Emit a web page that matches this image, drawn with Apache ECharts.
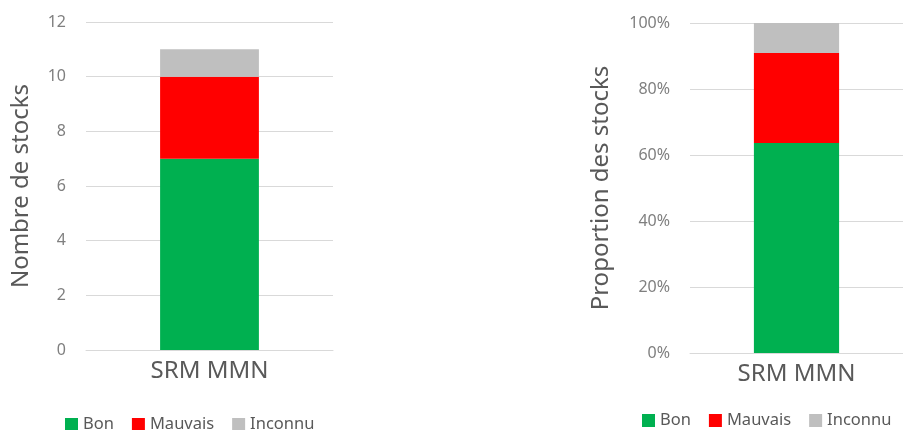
<!DOCTYPE html>
<html>
<head>
<meta charset="utf-8">
<script src="https://cdn.jsdelivr.net/npm/echarts@6/dist/echarts.min.js"></script>
<style>
  html, body { margin: 0; padding: 0; background: #fff; }
  #stocks { width: 903px; height: 430px; }
</style>
</head>
<body>
<div id="stocks"></div>
<script>
// données
var categories = ['SRM MMN'];
var seriesNames = ['Bon', 'Mauvais', 'Inconnu'];
var colors = ['#00B050', '#FF0000', '#BFBFBF'];

// nombre de stocks
var countBon = [7];
var countMauvais = [3];
var countInconnu = [1];

// proportion des stocks (%)
var pctBon = [63.6];
var pctMauvais = [27.3];
var pctInconnu = [9.1];

var countTicks = [0, 2, 4, 6, 8, 10, 12];
var pctTicks = [0, 20, 40, 60, 80, 100];

var chart = echarts.init(document.getElementById('stocks'));

var font = 'Noto Sans';
var gridColor = '#D9D9D9';

var makeSeries = function(gridIdx, datas) {
    var list = [];
    for (var i = 0; i < seriesNames.length; i++) {
        list.push({
            name: seriesNames[i],
            type: 'bar',
            stack: 'total' + gridIdx,
            xAxisIndex: gridIdx,
            yAxisIndex: gridIdx,
            barWidth: '40%',
            data: datas[i],
            itemStyle: { color: colors[i] },
            emphasis: { disabled: true }
        });
    }
    return list;
};

var xAxisOf = function(gridIdx) {
    return {
        type: 'category',
        gridIndex: gridIdx,
        data: categories,
        axisLine: { lineStyle: { color: gridColor, width: 1 } },
        axisTick: { show: false },
        axisLabel: { color: '#595959', fontSize: 24, fontFamily: font, margin: 9 }
    };
};

var yAxisOf = function(gridIdx, name, ticks, gap, fmt) {
    return {
        type: 'value',
        gridIndex: gridIdx,
        min: ticks[0],
        max: ticks[ticks.length - 1],
        interval: ticks[1] - ticks[0],
        name: name,
        nameLocation: 'middle',
        nameRotate: 90,
        nameGap: gap,
        nameTextStyle: { color: '#595959', fontSize: 24, fontFamily: font },
        axisLine: { show: false },
        axisTick: { show: false },
        axisLabel: { color: '#7F7F7F', fontSize: 16, fontFamily: font, margin: 20, formatter: fmt },
        splitLine: { lineStyle: { color: gridColor, width: 1 } }
    };
};

var legendOf = function(left, top) {
    return {
        data: seriesNames,
        left: left,
        top: top,
        width: 320,
        icon: 'rect',
        itemWidth: 13,
        itemHeight: 13,
        itemGap: 18,
        selectedMode: false,
        textStyle: { color: '#595959', fontSize: 16.5, fontFamily: font }
    };
};

var option = {
    animation: false,
    textStyle: { fontFamily: font },
    grid: [
        { left: 86, right: 570, top: 22, bottom: 80 },
        { left: 690, width: 220, top: 23, bottom: 77 }
    ],
    xAxis: [xAxisOf(0), xAxisOf(1)],
    yAxis: [
        yAxisOf(0, 'Nombre de stocks', countTicks, 53, '{value}'),
        yAxisOf(1, 'Proportion des stocks', pctTicks, 77, '{value}%')
    ],
    legend: [legendOf(60, 411), legendOf(637, 407)],
    series: makeSeries(0, [countBon, countMauvais, countInconnu])
        .concat(makeSeries(1, [pctBon, pctMauvais, pctInconnu]))
};

chart.setOption(option);
</script>
</body>
</html>
